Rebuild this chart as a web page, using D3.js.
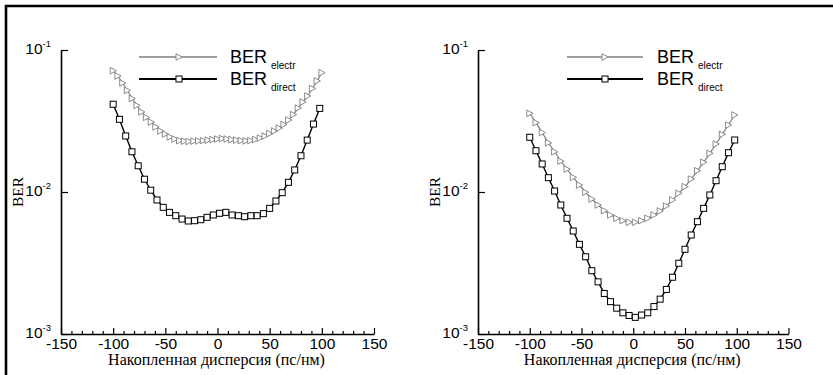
<!DOCTYPE html>
<html>
<head>
<meta charset="utf-8">
<script src="https://cdn.jsdelivr.net/npm/d3@7"></script>
<style>
  body { margin: 0; background: #fff; }
  svg { display: block; }
</style>
</head>
<body>
<svg id="chart" width="833" height="375"></svg>
<script>
// Accumulated dispersion (ps/nm) and bit error rate, two receiver configurations
const dispersionTicks = [-150, -100, -50, 0, 50, 100, 150];
const dispersionMinor = [-140, -130, -120, -110, -90, -80, -70, -60, -40, -30, -20, -10,
                         10, 20, 30, 40, 60, 70, 80, 90, 110, 120, 130, 140];
const berTicks = [1e-3, 1e-2, 1e-1];
const berTickExp = ["-3", "-2", "-1"];

const seriesNames = ["electr", "direct"];

// sample points of the direct-detection curves (both panels) and right electr curve
const xDirect = [-100, -94, -88, -82, -76, -70, -64, -58, -52, -46, -40, -34, -28, -22, -16, -10, -4,
                 2, 8, 14, 20, 26, 32, 38, 44, 50, 56, 62, 68, 74, 80, 86, 92, 98];
// denser sample points of the left electr curve
const xElectrLeft = [-100, -95.5, -90.9, -86.4, -81.8, -77.3, -72.7, -68.2, -63.6, -59.1, -54.5, -50,
                     -45.5, -40.9, -36.4, -31.8, -27.3, -22.7, -18.2, -13.6, -9.1, -4.5, 0, 4.5, 9.1,
                     13.6, 18.2, 22.7, 27.3, 31.8, 36.4, 40.9, 45.5, 50, 54.5, 59.1, 63.6, 68.2, 72.7,
                     77.3, 81.8, 86.4, 90.9, 95.5, 100];

const berElectrLeft = [0.0715, 0.0656, 0.0586, 0.0519, 0.0456, 0.0407, 0.0366, 0.0335, 0.0311, 0.0287,
                       0.0269, 0.0256, 0.0244, 0.0236, 0.0230, 0.0228, 0.0227, 0.0228, 0.0229, 0.0230,
                       0.0232, 0.0234, 0.0236, 0.0238, 0.0236, 0.0234, 0.0232, 0.0230, 0.0229, 0.0230,
                       0.0234, 0.0240, 0.0248, 0.0258, 0.0269, 0.0282, 0.0299, 0.0321, 0.0351, 0.0390,
                       0.0430, 0.0474, 0.0536, 0.0605, 0.0692];
const berDirectLeft = [0.0415, 0.0325, 0.0248, 0.0192, 0.0153, 0.0123, 0.0103, 0.00879, 0.00780, 0.00719,
                       0.00681, 0.00645, 0.00625, 0.00628, 0.00638, 0.00663, 0.00689, 0.00708, 0.00719,
                       0.00689, 0.00681, 0.00670, 0.00681, 0.00681, 0.00704, 0.00767, 0.00864, 0.00989,
                       0.0117, 0.0143, 0.0180, 0.0232, 0.0301, 0.0388];
const berElectrRight = [0.0358, 0.0308, 0.0262, 0.0222, 0.0192, 0.0165, 0.0145, 0.01269, 0.01120, 0.00995,
                        0.00893, 0.00810, 0.00739, 0.00689, 0.00653, 0.00628, 0.00612, 0.00612, 0.00628,
                        0.00653, 0.00689, 0.00735, 0.00797, 0.00879, 0.00979, 0.01090, 0.01234, 0.01413,
                        0.01619, 0.01873, 0.02178, 0.02548, 0.02963, 0.03485];
const berDirectRight = [0.0243, 0.01953, 0.01575, 0.01261, 0.01016, 0.00810, 0.00653, 0.00531, 0.00428,
                        0.00350, 0.00279, 0.00233, 0.00193, 0.00169, 0.00152, 0.00141, 0.00135, 0.00131,
                        0.00136, 0.00141, 0.00156, 0.00176, 0.00206, 0.00251, 0.00315, 0.00395, 0.00498,
                        0.00618, 0.00767, 0.00953, 0.01201, 0.01507, 0.01891, 0.02324];

const xTitle = "Накопленная дисперсия (пс/нм)";
const yTitle = "BER";

const SANS = "'Liberation Sans', Arial, sans-serif";
const SERIF = "'Liberation Serif', 'Times New Roman', serif";
const GREY = "#7f7f7f";

const svg = d3.select("#chart");

// outer frame
svg.append("path")
  .attr("d", "M6,375 V6 H833")
  .attr("fill", "none").attr("stroke", "#000").attr("stroke-width", 2.6);

function trianglePath(s) {
  // right-pointing open triangle
  return `M${-s * 0.5},${-s * 0.55} L${s * 0.55},0 L${-s * 0.5},${s * 0.55} Z`;
}

function drawPanel(cfg) {
  const g = svg.append("g");
  const x = d3.scaleLinear().domain([-150, 150]).range([cfg.left, cfg.right]);
  const y = d3.scaleLog().domain([1e-3, 1e-1]).range([334, 50]);

  // x axis: major ticks with labels, minor ticks without
  const xAxis = g.append("g").attr("transform", `translate(0,${y(1e-3)})`)
    .call(d3.axisBottom(x).tickValues(dispersionTicks).tickSizeInner(-6).tickSizeOuter(0)
      .tickPadding(3).tickFormat(d => d3.format("d")(d).replace("−", "-")));
  g.append("g").attr("transform", `translate(0,${y(1e-3)})`)
    .call(d3.axisBottom(x).tickValues(dispersionMinor).tickSize(-3).tickFormat(""))
    .call(a => a.select(".domain").remove());

  // y axis: decades, labels as 10 with superscript exponent
  const yAxis = g.append("g").attr("transform", `translate(${x(-150)},0)`)
    .call(d3.axisLeft(y).tickValues(berTicks).tickSizeInner(-7).tickSizeOuter(0)
      .tickPadding(10).tickFormat(""));

  g.selectAll(".domain").attr("stroke", "#000").attr("stroke-width", 1.6);
  g.selectAll(".tick line").attr("stroke", "#000").attr("stroke-width", 1.2);
  xAxis.selectAll(".tick text")
    .attr("font-family", SANS).attr("font-size", 15.5).attr("fill", "#000").attr("dy", "0.76em");

  yAxis.selectAll(".tick").each(function (d, i) {
    const t = d3.select(this).select("text")
      .attr("font-family", SANS).attr("fill", "#000").attr("x", -10).attr("dy", "0.35em")
      .attr("text-anchor", "end");
    t.append("tspan").attr("font-size", 15.5).text("10");
    t.append("tspan").attr("font-size", 9.5).attr("dy", "-0.75em").text(berTickExp[i]);
  });

  // axis titles
  g.append("text")
    .attr("x", (cfg.left + cfg.right) / 2 - 1).attr("y", 365)
    .attr("text-anchor", "middle").attr("font-family", SERIF).attr("font-size", 16)
    .text(xTitle);
  g.append("text")
    .attr("transform", `translate(${cfg.left - 43},${y(1e-2)}) rotate(-90)`)
    .attr("text-anchor", "middle").attr("dy", "0.35em")
    .attr("font-family", SERIF).attr("font-size", 15.5)
    .text(yTitle);

  const line = d3.line().x(d => x(d[0])).y(d => y(d[1]));

  const electr = cfg.xElectr.map((v, i) => [v, cfg.electr[i]]);
  const direct = xDirect.map((v, i) => [v, cfg.direct[i]]);

  // electr curve: grey with open triangles
  g.append("path").datum(electr).attr("d", line)
    .attr("fill", "none").attr("stroke", GREY).attr("stroke-width", 1.2);
  g.append("g").selectAll("path").data(electr).join("path")
    .attr("transform", d => `translate(${x(d[0])},${y(d[1])})`)
    .attr("d", trianglePath(6))
    .attr("fill", "#fff").attr("stroke", GREY).attr("stroke-width", 0.9);

  // direct curve: black with open squares
  g.append("path").datum(direct).attr("d", line)
    .attr("fill", "none").attr("stroke", "#000").attr("stroke-width", 1.4);
  g.append("g").selectAll("rect").data(direct).join("rect")
    .attr("x", d => x(d[0]) - 3).attr("y", d => y(d[1]) - 3)
    .attr("width", 6).attr("height", 6)
    .attr("fill", "#fff").attr("stroke", "#000").attr("stroke-width", 1);

  // legend
  const lg = g.append("g");
  const rows = [
    { name: seriesNames[0], yy: 57, color: GREY, w: 1.3, marker: "tri" },
    { name: seriesNames[1], yy: 79, color: "#000", w: 2, marker: "sq" }
  ];
  rows.forEach(r => {
    lg.append("line").attr("x1", cfg.legX0).attr("x2", cfg.legX1)
      .attr("y1", r.yy).attr("y2", r.yy).attr("stroke", r.color).attr("stroke-width", r.w);
    const mx = cfg.legMark;
    if (r.marker === "tri") {
      lg.append("path").attr("transform", `translate(${mx},${r.yy})`).attr("d", trianglePath(6))
        .attr("fill", "#fff").attr("stroke", r.color).attr("stroke-width", 0.9);
    } else {
      lg.append("rect").attr("x", mx - 3).attr("y", r.yy - 3).attr("width", 6).attr("height", 6)
        .attr("fill", "#fff").attr("stroke", r.color).attr("stroke-width", 1);
    }
    const t = lg.append("text").attr("x", cfg.legText).attr("y", r.yy + 6)
      .attr("font-family", SANS).attr("fill", "#000");
    t.append("tspan").attr("font-size", 18).text("BER");
    t.append("tspan").attr("font-size", 10).attr("dx", 4).attr("dy", 6).text(r.name);
  });
}

drawPanel({
  left: 61, right: 374,
  xElectr: xElectrLeft, electr: berElectrLeft, direct: berDirectLeft,
  legX0: 139, legX1: 217, legMark: 179, legText: 230
});
drawPanel({
  left: 478, right: 788.5,
  xElectr: xDirect, electr: berElectrRight, direct: berDirectRight,
  legX0: 567, legX1: 643, legMark: 605, legText: 657
});
</script>
</body>
</html>
